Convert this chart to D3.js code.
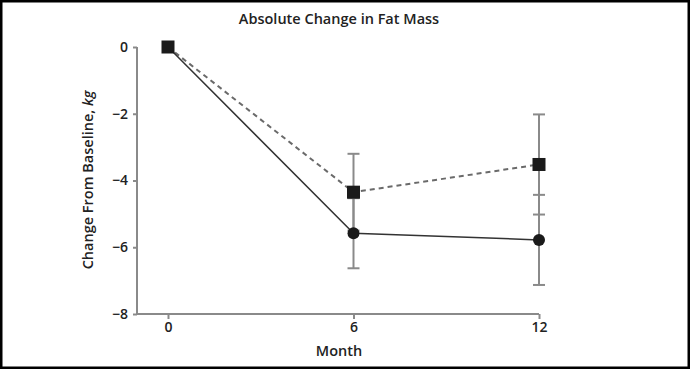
<!DOCTYPE html>
<html>
<head>
<meta charset="utf-8">
<script src="https://cdn.jsdelivr.net/npm/d3@7"></script>
<style>
  body { margin: 0; background: #fff; }
  text { font-family: "Open Sans", sans-serif; fill: #222; }
</style>
</head>
<body>
<div id="chart"></div>
<script>
// data
var months = [0, 6, 12];
var squareMean = [0, -4.35, -3.52];
var squareErr = [0, 1.15, 1.5];
var circleMean = [0, -5.58, -5.78];
var circleErr = [0, 1.05, 1.35];
var yTicks = [0, -2, -4, -6, -8];

var width = 690, height = 369;

var svg = d3.select("#chart").append("svg")
    .attr("width", width)
    .attr("height", height);

// frame
svg.append("rect")
    .attr("x", 1).attr("y", 1)
    .attr("width", width - 2).attr("height", height - 2)
    .attr("fill", "none")
    .attr("stroke", "#000")
    .attr("stroke-width", 3);

var x = d3.scaleLinear().domain([0, 12]).range([168, 539]);
var y = d3.scaleLinear().domain([0, -8]).range([47, 314]);
var axisLeftX = 137;

// axes
var yAxis = svg.append("g")
    .attr("transform", "translate(" + axisLeftX + ",0)")
    .call(d3.axisLeft(y).tickValues(yTicks).tickSize(4).tickPadding(5)
        .tickFormat(d => d === 0 ? "0" : "\u2212" + Math.abs(d)));
yAxis.select(".domain").attr("d", "M0," + y(0) + "V" + y(-8));

var xAxis = svg.append("g")
    .attr("transform", "translate(0," + y(-8) + ")")
    .call(d3.axisBottom(x).tickValues(months).tickSize(5).tickPadding(3));
xAxis.select(".domain").attr("d", "M" + axisLeftX + ",0H" + x(12));

svg.selectAll(".domain, .tick line")
    .attr("stroke", "#8a8a8a")
    .attr("stroke-width", 2);
svg.selectAll(".tick text")
    .style("font-size", "14px")
    .style("font-weight", "600")
    .style("font-family", "'Open Sans', sans-serif")
    .attr("fill", "#222");

// error bars
function errorBars(mean, err) {
    var pts = months.map((m, i) => ({m: m, v: mean[i], e: err[i]})).filter(d => d.e > 0);
    var g = svg.append("g").attr("stroke", "#8a8a8a").attr("stroke-width", 2);
    g.selectAll("line.bar").data(pts).join("line")
        .attr("x1", d => x(d.m)).attr("x2", d => x(d.m))
        .attr("y1", d => y(d.v + d.e)).attr("y2", d => y(d.v - d.e));
    g.selectAll("line.capTop").data(pts).join("line")
        .attr("x1", d => x(d.m) - 6).attr("x2", d => x(d.m) + 6)
        .attr("y1", d => y(d.v + d.e)).attr("y2", d => y(d.v + d.e));
    g.selectAll("line.capBot").data(pts).join("line")
        .attr("x1", d => x(d.m) - 6).attr("x2", d => x(d.m) + 6)
        .attr("y1", d => y(d.v - d.e)).attr("y2", d => y(d.v - d.e));
}
errorBars(squareMean, squareErr);
errorBars(circleMean, circleErr);

var line = d3.line().x((d, i) => x(months[i])).y(d => y(d));

svg.append("path")
    .datum(squareMean)
    .attr("d", line)
    .attr("fill", "none")
    .attr("stroke", "#6a6a6a")
    .attr("stroke-width", 2)
    .attr("stroke-dasharray", "5,4");

svg.append("path")
    .datum(circleMean)
    .attr("d", line)
    .attr("fill", "none")
    .attr("stroke", "#333")
    .attr("stroke-width", 1.5);

svg.selectAll("circle.pt")
    .data(circleMean)
    .join("circle")
    .attr("cx", (d, i) => x(months[i]))
    .attr("cy", d => y(d))
    .attr("r", 6)
    .attr("fill", "#1a1a1a");

svg.selectAll("rect.pt")
    .data(squareMean)
    .join("rect")
    .attr("x", (d, i) => x(months[i]) - 6.5)
    .attr("y", d => y(d) - 6.5)
    .attr("width", 13)
    .attr("height", 13)
    .attr("fill", "#1a1a1a");

// titles
svg.append("text")
    .attr("x", 339).attr("y", 24)
    .attr("text-anchor", "middle")
    .style("font-size", "14.5px")
    .style("font-weight", "600")
    .text("Absolute Change in Fat Mass");

svg.append("text")
    .attr("x", 339).attr("y", 356)
    .attr("text-anchor", "middle")
    .style("font-size", "14.5px")
    .style("font-weight", "600")
    .text("Month");

var yl = svg.append("text")
    .attr("transform", "translate(93,180) rotate(-90)")
    .attr("text-anchor", "middle")
    .style("font-size", "14.5px")
    .style("font-weight", "600");
yl.append("tspan").text("Change From Baseline, ");
yl.append("tspan").style("font-style", "italic").text("kg");
</script>
</body>
</html>
